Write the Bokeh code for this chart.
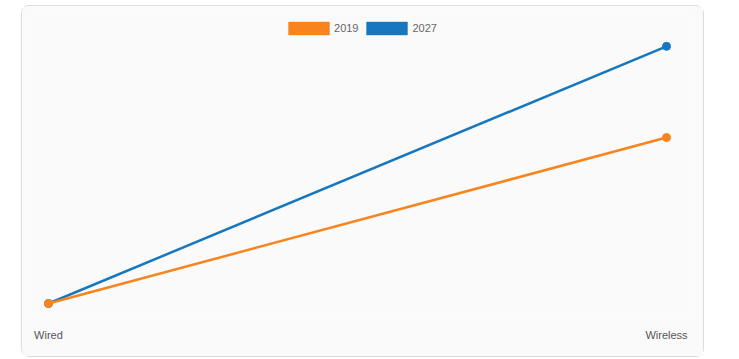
from bokeh.plotting import figure
from bokeh.models import Range1d, FixedTicker, Legend, LegendItem, ColumnDataSource
from bokeh.embed import file_html
from bokeh.resources import INLINE

categories = ["Wired", "Wireless"]
series_names = ["2019", "2027"]
values_2019 = [8, 36]
values_2027 = [8, 51.4]
colors = {"2019": "#f7841c", "2027": "#1777be"}

xs = list(range(len(categories)))

p = figure(output_backend="svg", toolbar_location=None,
           frame_width=660, frame_height=304,
           min_border_left=8, min_border_right=13, min_border_top=9, min_border_bottom=37,
           x_range=Range1d(-0.0291, 1.0388), y_range=Range1d(5.3, 56.6),
           background_fill_color="#fafafa", border_fill_color="#fafafa",
           outline_line_color=None,
           margin=(5, 0, 0, 21),
           styles={"border": "1px solid #dcdcdc", "border-radius": "8px"})

p.xgrid.visible = False
p.ygrid.visible = False
p.yaxis.visible = False

ax = p.xaxis[0]
ax.ticker = FixedTicker(ticks=xs)
ax.major_label_overrides = {i: c for i, c in enumerate(categories)}
ax.axis_line_color = None
ax.major_tick_line_color = None
ax.minor_tick_line_color = None
ax.major_label_standoff = 3
ax.major_label_text_font = "Liberation Sans"
ax.major_label_text_font_size = "11px"
ax.major_label_text_color = "#555555"

sources = {"2019": ColumnDataSource(dict(x=xs, y=values_2019)),
           "2027": ColumnDataSource(dict(x=xs, y=values_2027))}
for name in ["2027", "2019"]:
    src = sources[name]
    p.line("x", "y", source=src, line_color=colors[name], line_width=2.5)
    p.scatter("x", "y", source=src, size=8, fill_color=colors[name], line_color=colors[name])

legend_items = []
for name in series_names:
    dummy = p.quad(left="x", right="x", top="y", bottom="y", source=sources[name],
                   fill_color=colors[name], line_color=colors[name], line_alpha=0.5)
    dummy.visible = False
    legend_items.append(LegendItem(label=name, renderers=[dummy]))

legend = Legend(items=legend_items, orientation="horizontal", location="top_center",
                glyph_width=51, glyph_height=16, label_standoff=0, spacing=3,
                margin=5, padding=5, background_fill_alpha=0, border_line_color=None,
                inactive_fill_alpha=0,
                label_text_font="Liberation Sans", label_text_font_size="11px",
                label_text_color="#666666", label_height=13)
p.add_layout(legend, "center")

open("out.html", "w").write(file_html(p, INLINE))
